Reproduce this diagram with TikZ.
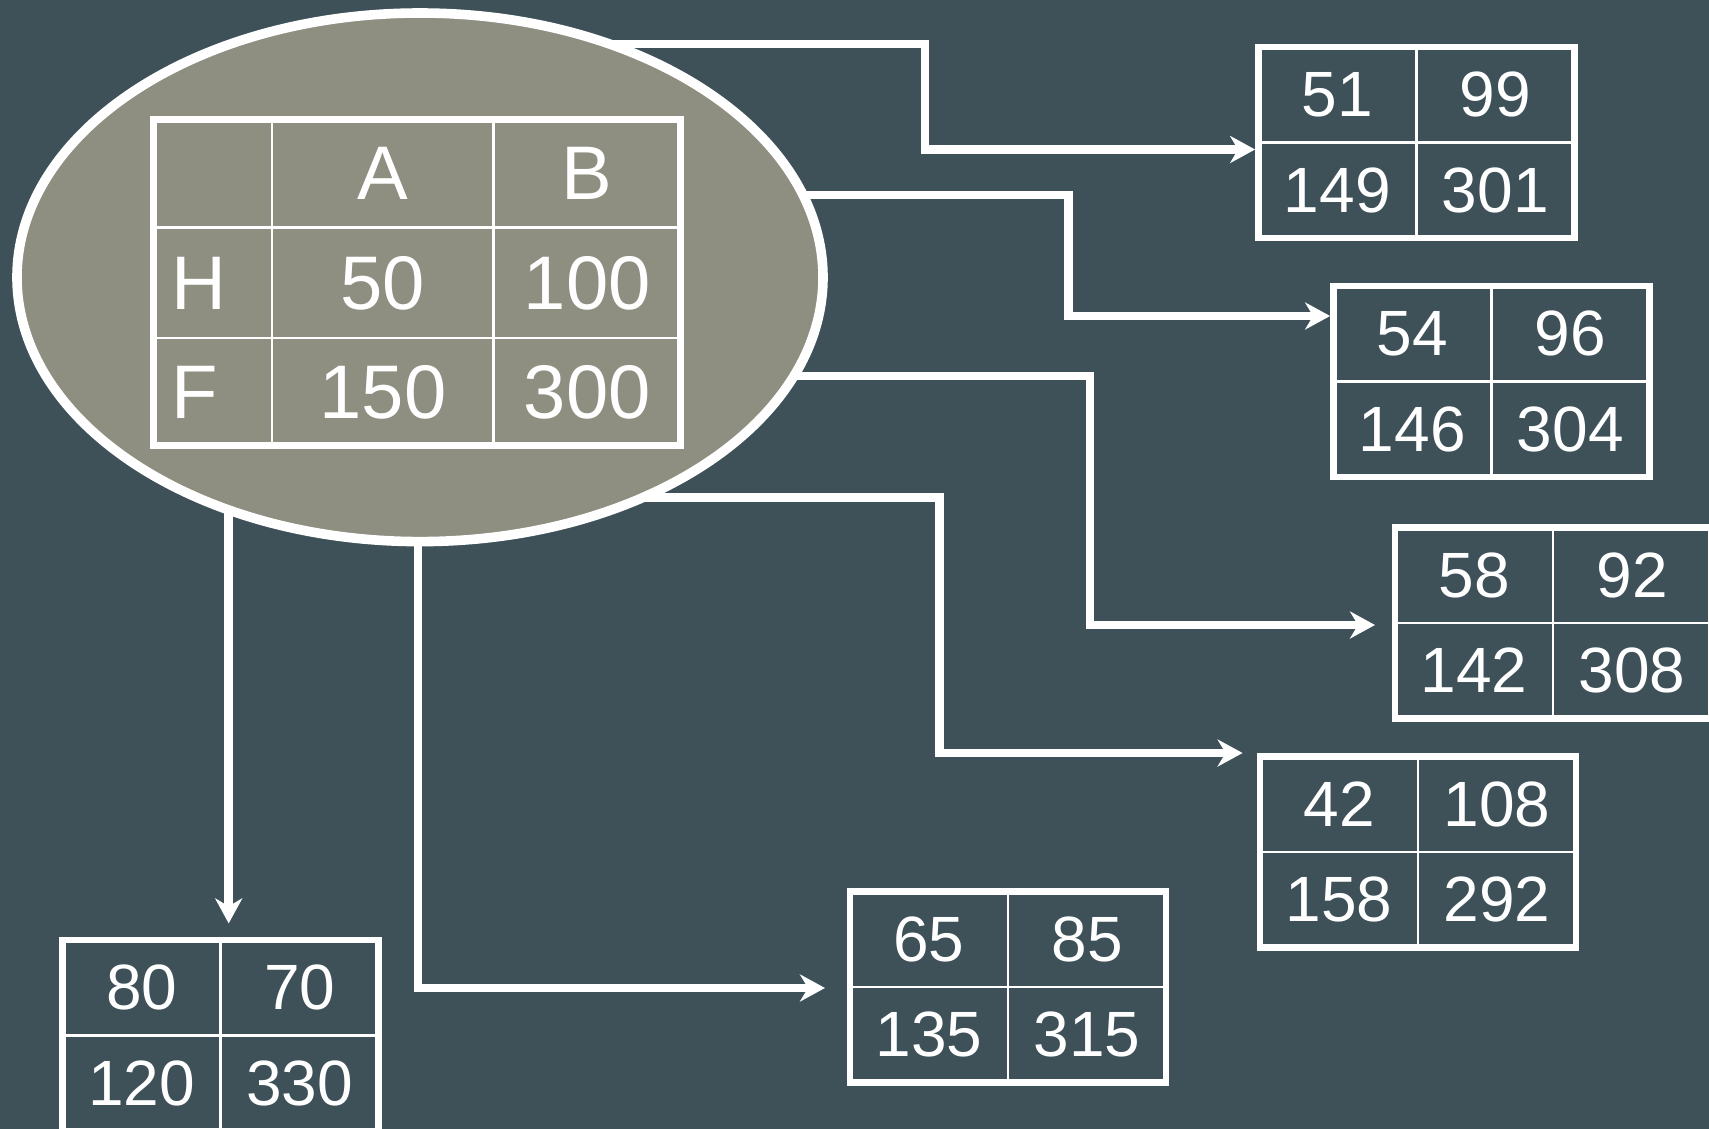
\documentclass[tikz,border=0pt]{standalone}
\usepackage{fontspec}
\setmainfont{Liberation Sans}
\usetikzlibrary{arrows.meta}
\usetikzlibrary{calc}
\usetikzlibrary{shapes.geometric}

\definecolor{slate}{RGB}{62,81,89}
\definecolor{khaki}{RGB}{142,142,129}

\pgfdeclarelayer{bg}
\pgfdeclarelayer{wires}
\pgfsetlayers{bg,wires,main}

\tikzset{
  blob/.style={ellipse, draw=white, fill=khaki, line width=4.8pt,
    minimum width=403pt, minimum height=264.3pt, inner sep=0pt, outer sep=0pt},
  frame/.style={draw=white, line width=3.3pt, minimum width=158pt,
    minimum height=95.5pt, inner sep=0pt, outer sep=0pt},
  gridline/.style={white, line width=1.3pt},
  num/.style={white, font=\fontsize{32}{32}\selectfont, inner sep=0pt},
  big/.style={white, font=\fontsize{38}{38}\selectfont, inner sep=0pt},
  link/.style={white, line width=4.25pt,
    -{Stealth[length=12.5pt, width=13.5pt, inset=4pt]}}
}

% 2x2 table: name, north west corner, four entries
\newcommand{\smalltab}[6]{%
  \node[frame, anchor=north west] (#1) at #2 {};
  \draw[gridline] (#1.north) -- (#1.south);
  \draw[gridline] (#1.west) -- (#1.east);
  \node[num] (#1-a) at ($(#1.north west)!0.5!(#1.center)$) {#3};
  \node[num] (#1-b) at ($(#1.north east)!0.5!(#1.center)$) {#4};
  \node[num] (#1-c) at ($(#1.south west)!0.5!(#1.center)$) {#5};
  \node[num] (#1-d) at ($(#1.south east)!0.5!(#1.center)$) {#6};
}

\begin{document}
\begin{tikzpicture}[x=0.5pt, y=-0.5pt]
        % Fix the canvas and paint the background
        \useasboundingbox (0,0) rectangle (1709,1129);
        \begin{pgfonlayer}{bg}
            \fill[slate] (0,0) rectangle (1709,1129);
        \end{pgfonlayer}

        % Draw the ellipse holding the joint table
        \node[blob] (ell) at (420,277.3) {};

        % Draw the joint table
        \node[frame, anchor=north west, minimum width=263.7pt, minimum height=163.2pt] (tab) at (153.3,119.3) {};
        \coordinate (colA) at (272,0);
        \coordinate (colB) at (493.7,0);
        \coordinate (rowH) at (0,227.7);
        \coordinate (rowF) at (0,338);
        \draw[gridline] (tab.north -| colA) -- (tab.south -| colA);
        \draw[gridline] (tab.north -| colB) -- (tab.south -| colB);
        \draw[gridline] (tab.west |- rowH) -- (tab.east |- rowH);
        \draw[gridline] (tab.west |- rowF) -- (tab.east |- rowF);

        \node[big] (hA) at (382.9,173.5) {A};
        \node[big] (hB) at (587.2,173.5) {B};
        \node[big, anchor=west] (hH) at (171,282.9) {H};
        \node[big, anchor=west] (hF) at (171,391.9) {F};
        \node[big] (vHA) at (382.9,282.9) {50};
        \node[big] (vHB) at (587.2,282.9) {100};
        \node[big] (vFA) at (382.9,391.9) {150};
        \node[big] (vFB) at (587.2,391.9) {300};

        % Draw the sampled tables
        \foreach \name/\pos/\a/\b/\c/\d in {
            t1/{(1258.3,46.9)}/51/99/149/301,
            t2/{(1333.3,286)}/54/96/146/304,
            t3/{(1395,527.3)}/58/92/142/308,
            t4/{(1260,756.4)}/42/108/158/292,
            t5/{(850,891.3)}/65/85/135/315,
            t6/{(62.7,940)}/80/70/120/330} {
            \smalltab{\name}{\pos}{\a}{\b}{\c}{\d}
        }

        % Draw the wires from the ellipse to the tables
        \begin{pgfonlayer}{wires}
            \coordinate (k1) at (925,43.8);
            \coordinate (m1) at (925,149.5);
            \coordinate (k2) at (1068.4,195);
            \coordinate (m2) at (1068.4,316);
            \coordinate (k3) at (1090,376);
            \coordinate (m3) at (1090,625);
            \coordinate (k4) at (939.7,497.5);
            \coordinate (m4) at (939.7,753);
            \coordinate (m5) at (418,988);
            \coordinate (k6) at (228.7,520);

            \draw[link, shorten >=1.6pt] (ell.center |- k1) -- (k1) -- (m1) -- (m1 -| t1.west);
            \draw[link, shorten >=1.6pt] (ell.center |- k2) -- (k2) -- (m2) -- (m2 -| t2.west);
            \draw[link, shorten >=10pt] (ell.center |- k3) -- (k3) -- (m3) -- (m3 -| t3.west);
            \draw[link, shorten >=8.7pt] (ell.center |- k4) -- (k4) -- (m4) -- (m4 -| t4.west);
            \draw[link, shorten >=12.5pt] (ell.center -| m5) -- (m5) -- (m5 -| t5.west);
            \draw[link, shorten >=8.3pt] (ell.center -| k6) -- (k6 |- t6.north);
        \end{pgfonlayer}
    \end{tikzpicture}
\end{document}
